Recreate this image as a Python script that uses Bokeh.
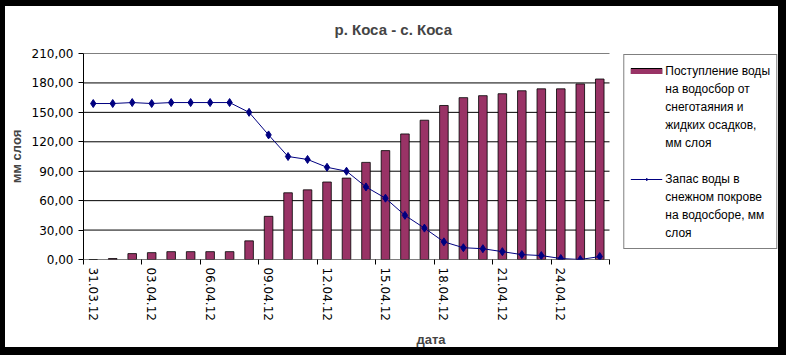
from bokeh.plotting import figure
from bokeh.models import FixedTicker, LinearAxis, Legend, LegendItem, Range1d
from bokeh.embed import file_html
from bokeh.resources import INLINE

# ---- data ----
dates = ["31.03.12", "01.04.12", "02.04.12", "03.04.12", "04.04.12", "05.04.12",
         "06.04.12", "07.04.12", "08.04.12", "09.04.12", "10.04.12", "11.04.12",
         "12.04.12", "13.04.12", "14.04.12", "15.04.12", "16.04.12", "17.04.12",
         "18.04.12", "19.04.12", "20.04.12", "21.04.12", "22.04.12", "23.04.12",
         "24.04.12", "25.04.12", "26.04.12"]
inflow = [0, 1, 6, 7, 8, 8, 8, 8, 19, 44, 68, 71, 79, 83, 99, 111, 128, 142,
          157, 165, 167, 169, 172, 174, 174, 179, 184]
snow = [159, 159, 160, 159, 160, 160, 160, 160, 150, 127, 105, 102, 94, 90, 74,
        62.5, 45, 32, 18, 12, 11, 8, 5, 4, 1, 0, 3]
y_ticks = [0, 30, 60, 90, 120, 150, 180, 210]
y_tick_labels = ["0,00", "30,00", "60,00", "90,00", "120,00", "150,00", "180,00", "210,00"]
label_step = 3
inflow_lines = ["Поступление воды", "на водосбор от", "снеготаяния и",
                "жидких осадков,", "мм слоя"]
snow_lines = ["Запас воды в", "снежном покрове", "на водосборе, мм", "слоя"]

xs = list(range(len(dates)))
n = len(dates)

W, H = 778, 347
FL, FR, FT, FB = 78, 773, 47, 253          # frame edges (px)
CAT_PX = 526 / n                           # px per category in the reference
x_end = -0.5 + (FR - FL) / CAT_PX

p = figure(width=W, height=H, x_range=Range1d(-0.5, x_end), y_range=Range1d(0, 210),
           output_backend="svg", toolbar_location=None, x_axis_location=None,
           min_border_left=FL, min_border_right=W - FR, min_border_top=FT,
           min_border_bottom=H - FB,
           background_fill_color="white", border_fill_color="white", outline_line_color=None)
p.styles = {"border-left": "5px solid black", "border-top": "6px solid black",
            "outline": "8px solid black"}

p.title.text = "р. Коса - с. Коса"
p.title.text_font = "Liberation Sans"
p.title.text_font_size = "15px"
p.title.text_font_style = "bold"
p.title.align = "left"
p.title.offset = 251
p.title.vertical_align = "top"
p.title.standoff = 28

# y axis
ya = p.yaxis[0]
ya.ticker = FixedTicker(ticks=y_ticks)
ya.major_label_overrides = {t: l for t, l in zip(y_ticks, y_tick_labels)}
ya.major_tick_in = 0
ya.major_tick_out = 5
ya.minor_tick_line_color = None
ya.axis_line_color = "black"
ya.major_tick_line_color = "black"
ya.major_label_text_font = "DejaVu Sans"
ya.major_label_text_font_size = "12px"
ya.major_label_text_color = "black"
ya.axis_label = "мм слоя"
ya.axis_label_text_font = "Liberation Sans"
ya.axis_label_text_font_size = "13px"
ya.axis_label_text_font_style = "bold"
ya.axis_label_standoff = 5

p.grid.grid_line_color = None

# horizontal grid lines limited to the category span
edge0, edge1 = -0.5, n - 0.5
p.segment(x0=[edge0] * len(y_ticks), x1=[edge1] * len(y_ticks), y0=y_ticks, y1=y_ticks,
          line_color="black", line_width=1)

# x axis: tick marks at category boundaries
ax_ticks = LinearAxis(ticker=FixedTicker(ticks=[i - 0.5 for i in range(0, n + 1, label_step)]),
                      major_tick_in=0, major_tick_out=5, minor_tick_line_color=None,
                      axis_line_color=None, major_tick_line_color="black",
                      major_label_text_alpha=0, major_label_text_font_size="1px",
                      major_label_standoff=0)
# x axis: labels at category centres
lab_idx = list(range(0, n, label_step))
ax_labels = LinearAxis(ticker=FixedTicker(ticks=lab_idx),
                       major_label_overrides={i: dates[i] for i in lab_idx},
                       major_label_orientation="vertical",
                       axis_line_color=None, major_tick_line_color=None,
                       minor_tick_line_color=None, major_tick_in=0, major_tick_out=0,
                       major_label_standoff=3,
                       major_label_text_font="DejaVu Sans", major_label_text_font_size="12px",
                       major_label_text_color="black",
                       axis_label="дата", axis_label_text_font="Liberation Sans",
                       axis_label_text_font_size="13px", axis_label_text_font_style="bold",
                       axis_label_standoff=8)
p.add_layout(ax_ticks, "below")
p.add_layout(ax_labels, "below")

bars = p.vbar(x=xs, top=inflow, width=0.44, fill_color="#993366", line_color="black", line_width=0.8)
ln = p.line(xs, snow, line_color="#000080", line_width=1)
mk = p.scatter(xs, snow, marker="diamond", size=8, fill_color="#000080", line_color="#000080")

# legend-only helpers (a single point draws no line in the plot)
sw_outline = p.line(x=xs[:1], y=inflow[:1], line_color="black", line_width=7)
sw_fill = p.line(x=xs[:1], y=inflow[:1], line_color="#993366", line_width=5)
blank = p.line(x=xs[:1], y=inflow[:1], line_alpha=0)

items = [LegendItem(label=inflow_lines[0], renderers=[sw_outline, sw_fill])]
items += [LegendItem(label=t, renderers=[blank]) for t in inflow_lines[1:]]
items += [LegendItem(label="", renderers=[blank])]
items.append(LegendItem(label=snow_lines[0], renderers=[ln, mk]))
items += [LegendItem(label=t, renderers=[blank]) for t in snow_lines[1:]]

legend = Legend(items=items, location="top_right", orientation="vertical",
                title=" ", title_text_font_size="1px", title_standoff=0,
                border_line_color="black", border_line_width=1,
                background_fill_color="white", background_fill_alpha=1,
                label_text_font="Liberation Sans", label_text_font_size="12px",
                label_text_color="black",
                label_height=18, label_width=20,
                glyph_width=32, glyph_height=6, label_standoff=3,
                padding=6, spacing=0, margin=1)
p.add_layout(legend, "center")

open("out.html", "w").write(file_html(p, INLINE))
